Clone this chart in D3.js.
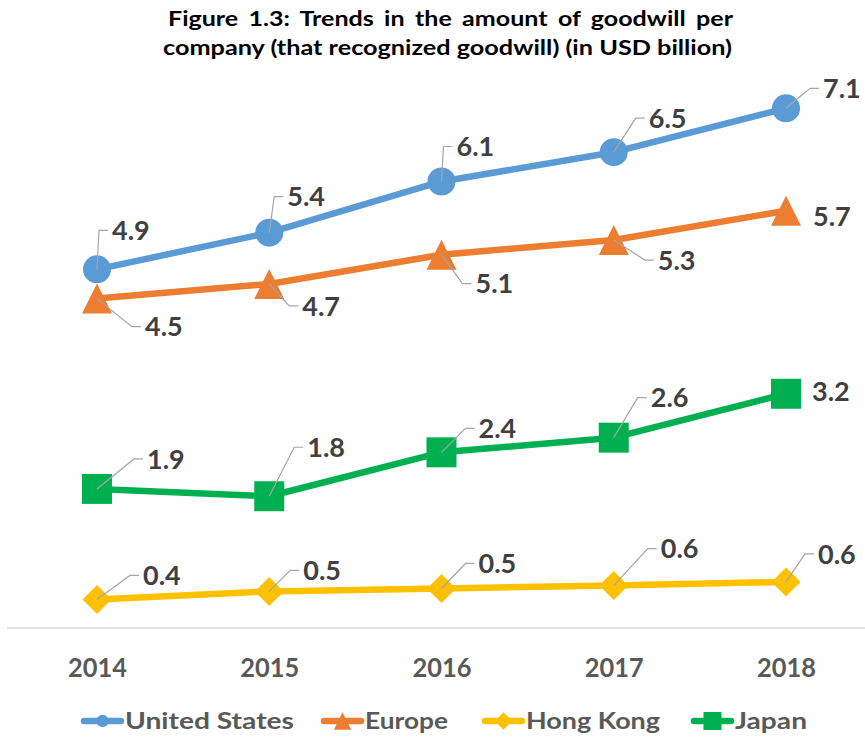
<!DOCTYPE html>
<html>
<head>
<meta charset="utf-8">
<script src="https://cdn.jsdelivr.net/npm/d3@7"></script>
<style>
  body { margin: 0; background: #fff; }
  svg { font-family: Lato, "Liberation Sans", sans-serif; font-weight: bold; }
</style>
</head>
<body>
<svg width="865" height="738"></svg>
<script>
let years = ["2014", "2015", "2016", "2017", "2018"];
let seriesNames = ["United States", "Europe", "Hong Kong", "Japan"];
let usValues = [4.9, 5.4, 6.1, 6.5, 7.1];
let europeValues = [4.5, 4.7, 5.1, 5.3, 5.7];
let hongKongValues = [0.39, 0.5, 0.54, 0.58, 0.63];
let japanValues = [1.9, 1.8, 2.4, 2.6, 3.2];

var svgWidth = 865, svgHeight = 738;
var colors = ["#5B9BD5", "#ED7D31", "#FFC000", "#00B050"];

// custom marker shapes: size = bbox side squared
var triangle = {
  draw: function(ctx, size) {
    var w = Math.sqrt(size);
    ctx.moveTo(0, -w / 2); ctx.lineTo(w / 2, w / 2); ctx.lineTo(-w / 2, w / 2); ctx.closePath();
  }
};
var diamond = {
  draw: function(ctx, size) {
    var r = Math.sqrt(size) / 2;
    ctx.moveTo(0, -r); ctx.lineTo(r, 0); ctx.lineTo(0, r); ctx.lineTo(-r, 0); ctx.closePath();
  }
};
var symbols = [d3.symbolCircle, triangle, diamond, d3.symbolSquare];
var symbolSizes = [616, 900, 841, 900];
var legendSizes = [120, 300, 300, 324];

// label offsets from each point (dx to text start, dy to text centre)
var labelOffsets = [
  [[15, -39], [18, -36], [15, -35], [35, -34], [37, -20]],
  [[48, 28], [33, 22], [34, 29], [44, 20], [27, 6]],
  [[46, -24], [34, -21], [37, -25], [47, -37], [32, -28]],
  [[50, -30], [38, -49], [37, -24], [37, -40], [26, -2]]
];

var series = [usValues, europeValues, hongKongValues, japanValues].map((v, i) => ({
  name: seriesNames[i], values: v, color: colors[i], symbol: symbols[i],
  size: symbolSizes[i], legendSize: legendSizes[i], offsets: labelOffsets[i]
}));

var svg = d3.select("svg").attr("width", svgWidth).attr("height", svgHeight);

var xScale = d3.scalePoint().domain(years).range([97, 786]);
var yScale = d3.scaleLinear().domain([0, 8]).range([628, 42.4]);

// title: second line stretched to width, first line justified with same glyph stretch
var title = svg.append("g").attr("fill", "#000").attr("font-size", 21);
var t1 = title.append("text").attr("x", 168).attr("y", 26)
  .text("Figure 1.3: Trends in the amount of goodwill per");
var t2 = title.append("text").attr("x", 163).attr("y", 55)
  .text("company (that recognized goodwill) (in USD billion)");
var n1 = t1.node().getComputedTextLength();
var n2 = t2.node().getComputedTextLength();
var stretch = 569 / n2;
t2.attr("textLength", 569).attr("lengthAdjust", "spacingAndGlyphs");
t1.attr("word-spacing", Math.max(0, (565 / stretch - n1) / 7))
  .attr("textLength", 565).attr("lengthAdjust", "spacingAndGlyphs");

// baseline
svg.append("line")
  .attr("x1", 7).attr("x2", 865)
  .attr("y1", yScale(0)).attr("y2", yScale(0))
  .attr("stroke", "#d9d9d9").attr("stroke-width", 1.5);

// x axis labels
var xAxis = d3.axisBottom(xScale).tickSize(0).tickPadding(0);
var axisG = svg.append("g").attr("transform", `translate(0,${yScale(0) + 49})`).call(xAxis);
axisG.select(".domain").remove();
axisG.selectAll("text")
  .attr("font-family", "Lato, sans-serif").attr("font-weight", "bold")
  .attr("font-size", 26).attr("fill", "#595959").attr("dy", 0)
  .attr("text-anchor", "start")
  .attr("x", -29.5)
  .attr("textLength", 59).attr("lengthAdjust", "spacingAndGlyphs");

var line = d3.line().x((d, i) => xScale(years[i])).y(d => yScale(d));

var groups = svg.selectAll("g.series")
  .data(series)
  .enter()
  .append("g")
  .attr("class", "series");

groups.append("path")
  .attr("d", d => line(d.values))
  .attr("fill", "none")
  .attr("stroke", d => d.color)
  .attr("stroke-width", 6.5)
  .attr("stroke-linejoin", "round");

groups.selectAll("path.marker")
  .data(s => s.values.map((v, i) => ({ v: v, i: i, s: s })))
  .enter()
  .append("path")
  .attr("class", "marker")
  .attr("d", d => d3.symbol().type(d.s.symbol).size(d.s.size)())
  .attr("fill", d => d.s.color)
  .attr("transform", d => `translate(${xScale(years[d.i])},${yScale(d.v)})`);

// leader lines, drawn over markers
groups.each(function(s) {
  var g = d3.select(this);
  s.values.forEach((v, i) => {
    var px = xScale(years[i]), py = yScale(v);
    var off = s.offsets[i];
    if (Math.abs(off[1]) > 12) {
      var tx = px + off[0], ty = py + off[1];
      var cx = Math.max(px + 2, tx - 13);
      g.append("polyline")
        .attr("points", `${px},${py} ${cx},${ty} ${tx - 4},${ty}`)
        .attr("fill", "none")
        .attr("stroke", "#a6a6a6")
        .attr("stroke-width", 1.2);
    }
  });
});

groups.selectAll("text.label")
  .data(s => s.values.map((v, i) => ({ v: v, i: i, s: s })))
  .enter()
  .append("text")
  .attr("class", "label")
  .attr("x", d => xScale(years[d.i]) + d.s.offsets[d.i][0])
  .attr("y", d => yScale(d.v) + d.s.offsets[d.i][1])
  .attr("dy", "0.36em")
  .attr("font-size", 27)
  .attr("fill", "#404040")
  .text(d => d3.format(".1f")(d.v));

// legend
var legendX = [82, 322, 483, 692];
var legendTextWidth = [169, 83, 134, 72];
var legend = svg.selectAll("g.legend")
  .data(series)
  .enter()
  .append("g")
  .attr("class", "legend")
  .attr("transform", (d, i) => `translate(${legendX[i]},721)`);

legend.append("line")
  .attr("x1", 2).attr("x2", 39)
  .attr("stroke", d => d.color).attr("stroke-width", 6.5)
  .attr("stroke-linecap", "round");
legend.append("path")
  .attr("d", d => d3.symbol().type(d.symbol).size(d.legendSize)())
  .attr("transform", "translate(20.5,0)")
  .attr("fill", d => d.color);
legend.append("text")
  .attr("x", 43)
  .attr("dy", "0.36em")
  .attr("font-size", 23.5)
  .attr("fill", "#595959")
  .attr("textLength", (d, i) => legendTextWidth[i])
  .attr("lengthAdjust", "spacingAndGlyphs")
  .text(d => d.name);
</script>
</body>
</html>
